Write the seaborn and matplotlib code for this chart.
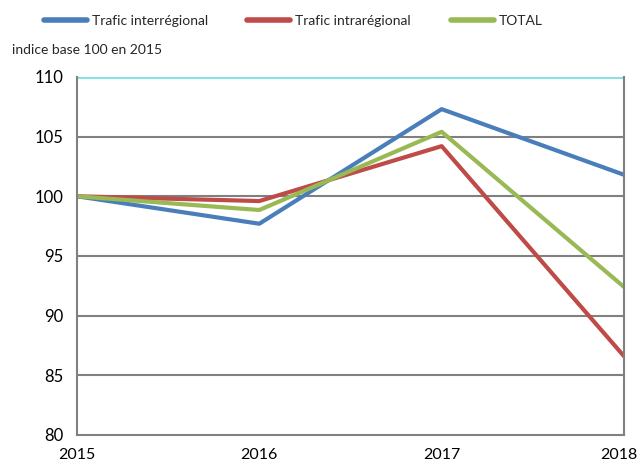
import pandas as pd
import seaborn as sns
import matplotlib.pyplot as plt
import matplotlib.transforms as mtransforms

# Data (index base 100 in 2015)
years = [2015, 2016, 2017, 2018]
interregional = [100.0, 97.7, 107.3, 101.8]
intraregional = [100.0, 99.6, 104.2, 86.6]
total = [100.0, 98.85, 105.4, 92.4]
series_names = ["Trafic interrégional", "Trafic intrarégional", "TOTAL"]
colors = ["#4a7ebb", "#be4b48", "#98b954"]
y_ticks = [80, 85, 90, 95, 100, 105, 110]

df = pd.DataFrame({
    "year": years * 3,
    "value": interregional + intraregional + total,
    "serie": [series_names[0]] * 4 + [series_names[1]] * 4 + [series_names[2]] * 4,
})

sns.set_style("white")
plt.rcParams["font.family"] = ["Lato", "DejaVu Sans"]

fig = plt.figure(figsize=(6.41, 4.69), dpi=100)
ax = fig.add_axes([0.120, 0.0725, 0.8535, 0.7635])

sns.lineplot(data=df, x="year", y="value", hue="serie", palette=colors,
             linewidth=3, ax=ax, legend=False)

ax.set_xlim(2015, 2018)
ax.set_ylim(80, 110)
ax.set_xticks(years)
ax.set_yticks(y_ticks)
ax.tick_params(axis="both", colors="#808080", labelcolor="black",
               direction="out", length=6, width=1.5)
ax.tick_params(axis="y", labelsize=12)
ax.tick_params(axis="x", labelsize=11.5)
ax.set_xlabel("")
ax.set_ylabel("")

# last year label sits on the figure edge: nudge it inside a little
last = ax.get_xticklabels()[-1]
last.set_transform(last.get_transform() +
                   mtransforms.ScaledTranslation(-4 / 72, 0, fig.dpi_scale_trans))

# grid lines (top one is cyan in the original)
for y in y_ticks[1:-1]:
    ax.axhline(y, color="#808080", linewidth=1.5, zorder=0)
ax.axhline(110, color="#7fe0e6", linewidth=2, zorder=0)

for side in ["left", "bottom", "right"]:
    ax.spines[side].set_color("#808080")
    ax.spines[side].set_linewidth(1.5)
ax.spines["top"].set_visible(False)

handles = [plt.Line2D([], [], color=c, linewidth=4) for c in colors]
fig.legend(handles, series_names, loc="center left", bbox_to_anchor=(0.068, 0.956),
           ncol=3, frameon=False, fontsize=10, handlelength=3.1, columnspacing=2.85,
           handletextpad=0.36, borderpad=0, borderaxespad=0)

fig.text(0.019, 0.893, "indice base 100 en 2015", fontsize=10, va="center")

fig.savefig("out.png", dpi=100)
